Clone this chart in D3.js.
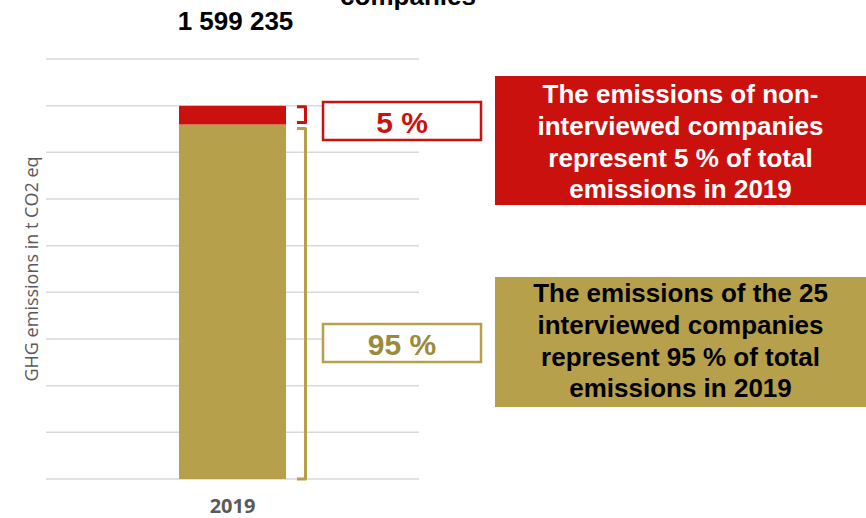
<!DOCTYPE html>
<html>
<head>
<meta charset="utf-8">
<script src="https://cdn.jsdelivr.net/npm/d3@7"></script>
<style>
  html, body { margin: 0; padding: 0; background: #fff; }
  svg { display: block; }
</style>
</head>
<body>
<svg id="chart" width="866" height="518"></svg>
<script>
// Emissions data (t CO2 eq)
const years = ["2019"];
const interviewed = [1519273];     // 25 interviewed companies
const nonInterviewed = [79962];    // non-interviewed companies
const totals = [1599235];
const yTicks = [0, 200000, 400000, 600000, 800000, 1000000, 1200000, 1400000, 1600000, 1800000];

const RED = "#CB110E";
const GOLD = "#B6A04B";
const GOLD_TEXT = "#9B8A3A";
const GREY = "#595959";

const svg = d3.select("#chart");

const x = d3.scaleBand().domain(years).range([46, 419]).paddingInner(0).paddingOuter(1.243);
const y = d3.scaleLinear().domain([0, 1800000]).range([479, 59]);

// horizontal gridlines
svg.append("g")
  .selectAll("line")
  .data(yTicks)
  .join("line")
  .attr("x1", 46).attr("x2", 419)
  .attr("y1", d => y(d)).attr("y2", d => y(d))
  .attr("stroke", "#d9d9d9")
  .attr("stroke-width", 1.5);

// x axis category labels
const xAxis = d3.axisBottom(x).tickSize(0).tickPadding(0);
const gx = svg.append("g").attr("transform", "translate(0,499)").call(xAxis);
gx.select(".domain").remove();
gx.selectAll("text")
  .attr("dy", "0.71em")
  .attr("font-family", "'Open Sans', sans-serif")
  .attr("font-weight", "bold")
  .attr("font-size", 20)
  .attr("fill", GREY);

// stacked bar
const rows = years.map((yr, i) => ({ year: yr, interviewed: interviewed[i], non: nonInterviewed[i], total: totals[i] }));
const stack = d3.stack().keys(["interviewed", "non"])(rows);
const colors = { interviewed: GOLD, non: RED };

svg.append("g")
  .selectAll("g")
  .data(stack)
  .join("g")
  .attr("fill", s => colors[s.key])
  .selectAll("rect")
  .data(s => s)
  .join("rect")
  .attr("x", d => x(d.data.year))
  .attr("width", x.bandwidth())
  .attr("y", d => y(d[1]))
  .attr("height", d => y(d[0]) - y(d[1]));

// total label above the bar
const fmt = v => d3.format(",")(v).replace(/,/g, " ");
svg.append("text")
  .attr("x", x(years[0]) + x.bandwidth() / 2 + 3)
  .attr("y", 30)
  .attr("text-anchor", "middle")
  .attr("font-family", "'Liberation Sans', Arial, sans-serif")
  .attr("font-weight", "bold")
  .attr("font-size", 26)
  .attr("fill", "#000")
  .text(fmt(totals[0]));

// title (last line)
svg.append("text")
  .attr("x", 408)
  .attr("y", 5)
  .attr("text-anchor", "middle")
  .attr("font-family", "'Liberation Sans', Arial, sans-serif")
  .attr("font-weight", "bold")
  .attr("font-size", 26)
  .attr("fill", "#000")
  .text("companies");

// y axis title
svg.append("text")
  .attr("transform", "translate(38,269) rotate(-90)")
  .attr("text-anchor", "middle")
  .attr("font-family", "'Open Sans', sans-serif")
  .attr("font-size", 18)
  .attr("fill", GREY)
  .text("GHG emissions in t CO2 eq");

// brackets beside the bar
const bx0 = 297, bx1 = 305.5;
function bracket(top, bottom) {
  return `M${bx0},${top} H${bx1} V${bottom} H${bx0}`;
}
const r = rows[0];
svg.append("path")
  .attr("d", bracket(y(r.total) + 1, y(r.interviewed) - 2))
  .attr("fill", "none").attr("stroke", RED).attr("stroke-width", 3)
  .attr("stroke-linejoin", "round");
svg.append("path")
  .attr("d", bracket(y(r.interviewed) + 4, y(0)))
  .attr("fill", "none").attr("stroke", GOLD).attr("stroke-width", 3)
  .attr("stroke-linejoin", "round");

// share boxes
const pctNon = Math.round(r.non / r.total * 100);
const pctInt = Math.round(r.interviewed / r.total * 100);

function shareBox(top, color, textColor, label) {
  svg.append("rect")
    .attr("x", 323).attr("y", top).attr("width", 158).attr("height", 38)
    .attr("fill", "#fff").attr("stroke", color).attr("stroke-width", 2.5);
  svg.append("text")
    .attr("x", 402).attr("y", top + 31)
    .attr("text-anchor", "middle")
    .attr("font-family", "'Liberation Sans', Arial, sans-serif")
    .attr("font-weight", "bold")
    .attr("font-size", 30)
    .attr("fill", textColor)
    .text(label);
}
shareBox(102, RED, RED, `${pctNon} %`);
shareBox(324, GOLD, GOLD_TEXT, `${pctInt} %`);

// callout boxes
function callout(top, height, fill, textColor, lines, firstBase) {
  svg.append("rect")
    .attr("x", 495).attr("y", top).attr("width", 371).attr("height", height)
    .attr("fill", fill);
  svg.append("g")
    .selectAll("text")
    .data(lines)
    .join("text")
    .attr("x", 680.5)
    .attr("y", (d, i) => firstBase + i * 31.8)
    .attr("text-anchor", "middle")
    .attr("font-family", "'Liberation Sans', Arial, sans-serif")
    .attr("font-weight", "bold")
    .attr("font-size", 26)
    .attr("fill", textColor)
    .text(d => d);
}
callout(76, 129, RED, "#fff", [
  "The emissions of non-",
  "interviewed companies",
  `represent ${pctNon} % of total`,
  `emissions in ${years[0]}`
], 103);
callout(277, 130, GOLD, "#000", [
  "The emissions of the 25",
  "interviewed companies",
  `represent ${pctInt} % of total`,
  `emissions in ${years[0]}`
], 302);
</script>
</body>
</html>
